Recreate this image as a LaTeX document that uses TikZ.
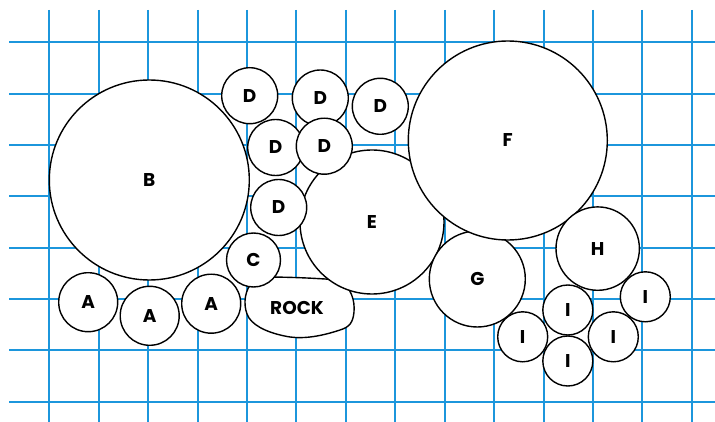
\documentclass[tikz,border=0pt]{standalone}
\usepackage{fontspec}
\setmainfont{Poppins}
\definecolor{gridblue}{RGB}{28,150,220}
\tikzset{
  gridline/.style={draw=gridblue, line width=1.7pt},
  bub/.style={circle, draw=black, fill=white, line width=1.4pt, inner sep=0pt,
    font=\bfseries\fontsize{18.5}{18.5}\selectfont},
  rockshape/.style={draw=black, fill=white, line width=1.4pt},
  lbl/.style={font=\bfseries\fontsize{18.5}{18.5}\selectfont, inner sep=0pt}
}
\begin{document}
\begin{tikzpicture}[x=1pt,y=-1pt]
\useasboundingbox (0,0) rectangle (715,422);
% grid
\foreach \yy in {42,94,145,196,248,299,350,402}{
  \draw[gridline] (9,\yy) -- (715,\yy);
}
\foreach \xx in {49,99,148,198,247,296,346,395,445,494,544,593,642,692}{
  \draw[gridline] (\xx,10) -- (\xx,422);
}
% rock (behind C and E)
\draw[rockshape] (262,277) .. controls (290,277) and (312,278) .. (340,280)
  .. controls (351,288) and (355,300) .. (354,312)
  .. controls (353,322) and (350,327) .. (340,330)
  .. controls (322,336) and (305,339) .. (290,337)
  .. controls (272,334) and (256,328) .. (249,318)
  .. controls (243,308) and (244,294) .. (250,285)
  .. controls (253,280) and (257,277) .. (262,277) -- cycle;
\node[lbl] (rock) at (297,307.5) {ROCK};
% big circles
\node[bub, minimum size=144pt] (E) at (372,222) {E};
\node[bub, minimum size=96pt] (G) at (477.3,279) {G};
\node[bub, minimum size=199pt] (F) at (507.8,140.5) {F};
\node[bub, minimum size=200pt] (B) at (149.3,180) {B};
\node[bub, minimum size=83.4pt] (H) at (597.7,248.6) {H};
% A
\node[bub, minimum size=59pt] (A1) at (88.2,302.2) {A};
\node[bub, minimum size=59pt] (A2) at (149.7,315.8) {A};
\node[bub, minimum size=59pt] (A3) at (211.2,303.7) {A};
% C
\node[bub, minimum size=54pt] (C) at (253.5,260) {C};
% D
\node[bub, minimum size=56pt] (D1) at (249.7,95.7) {D};
\node[bub, minimum size=56pt] (D2) at (320.3,98) {D};
\node[bub, minimum size=56pt] (D3) at (380.3,106.3) {D};
\node[bub, minimum size=56pt] (D4) at (275.7,147.5) {D};
\node[bub, minimum size=56pt] (D5) at (324.3,146.2) {D};
\node[bub, minimum size=56pt] (D6) at (278.7,207.5) {D};
% I
\node[bub, minimum size=50pt] (I1) at (522.7,336.8) {I};
\node[bub, minimum size=50pt] (I2) at (567.8,310) {I};
\node[bub, minimum size=50pt] (I3) at (567.8,361) {I};
\node[bub, minimum size=50pt] (I4) at (613.3,336.8) {I};
\node[bub, minimum size=50pt] (I5) at (645.3,296.8) {I};
\end{tikzpicture}
\end{document}
